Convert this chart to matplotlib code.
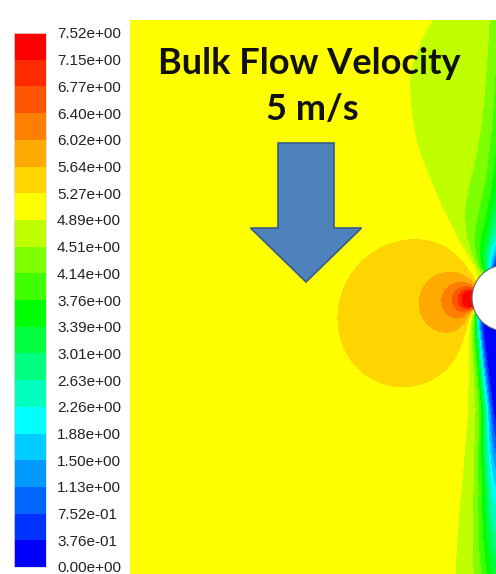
import numpy as np
import matplotlib
matplotlib.use("Agg")
import matplotlib.pyplot as plt
from matplotlib.colors import ListedColormap, BoundaryNorm, hsv_to_rgb
from matplotlib.patches import Circle, FancyArrow

# legend levels (m/s), as printed
levels = [0.0, 0.376, 0.752, 1.13, 1.50, 1.88, 2.26, 2.63, 3.01, 3.39, 3.76,
          4.14, 4.51, 4.89, 5.27, 5.64, 6.02, 6.40, 6.77, 7.15, 7.52]
# hue of each band, bottom (blue) to top (red)
band_hue = [240, 228, 216, 204, 192, 180, 165, 150, 135, 120, 105,
            90, 75, 60, 50, 40, 30, 20, 10, 0]

title_lines = ["Bulk Flow Velocity", "5 m/s"]
u_bulk = 5.0

# domain and cylinder, in pixels of the plotted window
W, H = 366.0, 554.0
cyl_x, cyl_y, cyl_r = 375.0, 278.0, 33.0

# speed-up lobe beside the cylinder (circular contours touching its flank)
lobe_x, lobe_y = 350.0, 280.0
lobe_k = 7.8
lobe_tilt = 0.0018

# slow-down ahead of the cylinder
up_amp = 120.0

# wake below the cylinder: distance downstream -> depth, half width, sharpness
wake_s = [0, 32, 112, 190, 276, 300]
wake_depth = [5.3, 5.3, 5.1, 3.3, 1.85, 1.7]
wake_width = [30, 27.5, 19.3, 21, 24, 24.5]
wake_sharp = [8, 8, 4.7, 3.8, 3.2, 3.1]

# ---- field ----
xx, yy = np.meshgrid(np.linspace(0, W, 733), np.linspace(0, H, 1109))

# lobe
lx = lobe_x - xx
ly = yy - lobe_y
rho = np.maximum(np.hypot(lx, ly), 1.0)
ang = np.arctan2(ly, lx) - np.minimum(lobe_tilt * rho, 0.3)
lobe = np.clip(lobe_k * np.cos(ang) / rho, 0, None)

# stagnation region upstream
dx = cyl_x - xx
dy = yy - cyl_y
r = np.maximum(np.hypot(dx, dy), 1.0)
phi = np.arctan2(dy, dx)
up = np.where(phi < -np.pi / 4, np.cos(2 * phi), 0.0) * up_amp / r ** 1.5

speed = u_bulk * (1 + lobe + up)

# low-speed strip along the right edge upstream of the cylinder
xr = W - xx
E = np.minimum(0.64 * (278.0 / np.clip(np.abs(dy), 1, None)) ** 0.65, 3.0)
strip = np.where(dy < 0, E * np.exp(-xr / 12.0) * (dy / r) ** 2, 0.0)

# wake
s = np.clip(dy, 0, None)
D = np.interp(s, wake_s, wake_depth)
w = np.interp(s, wake_s, wake_width)
n = np.interp(s, wake_s, wake_sharp)
wake = np.where(dy > 0, D / (1 + (np.abs(dx) / w) ** n) * np.clip(dy / 15.0, 0, 1), 0.0)

speed = np.clip(speed - strip - wake, 0, levels[-1])

colors = [hsv_to_rgb((hh / 360.0, 1, 1)) for hh in band_hue]
cmap = ListedColormap(colors)
norm = BoundaryNorm(levels, cmap.N)

fig = plt.figure(figsize=(4.96, 5.74), dpi=100)
ax = fig.add_axes([130 / 496, 0, 366 / 496, 554 / 574])
cs = ax.contourf(xx, yy, speed, levels=levels, cmap=cmap, norm=norm)
ax.set_xlim(0, W)
ax.set_ylim(H, 0)
ax.axis("off")

ax.add_patch(Circle((cyl_x, cyl_y), cyl_r, facecolor="white", edgecolor="#666666",
                    lw=0.8, zorder=3))

ax.text(179, 53.5, title_lines[0], ha="center", va="baseline", fontsize=26,
        fontweight="bold", family="Lato", color="#111111", zorder=5)
ax.text(182, 100.5, title_lines[1], ha="center", va="baseline", fontsize=26,
        fontweight="bold", family="Lato", color="#111111", zorder=5)

ax.add_patch(FancyArrow(176, 123, 0, 139, width=56, head_width=111, head_length=54,
                        length_includes_head=True, facecolor="#4F81BD",
                        edgecolor="#385D8A", lw=1.2, zorder=4))

# legend bar
cax = fig.add_axes([14 / 496, 7 / 574, 32 / 496, 534 / 574])
cb = fig.colorbar(cs, cax=cax, ticks=levels)
cb.ax.set_yticklabels([f"{v:.2e}" for v in levels], family="Liberation Sans",
                      fontsize=11, color="#222222")
cb.ax.tick_params(length=0, pad=8)
cb.outline.set_edgecolor("#dddddd")
cb.outline.set_linewidth(0.6)

fig.savefig("out.png", dpi=100)
